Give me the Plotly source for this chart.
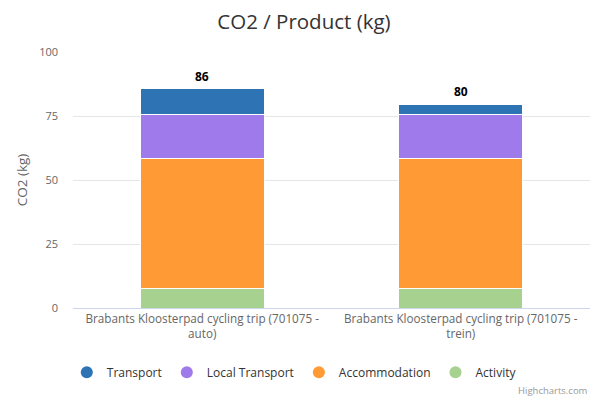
import plotly.graph_objects as go

# Categories and stacked values (kg CO2)
categories = [
    "Brabants Kloosterpad cycling trip (701075 - auto)",
    "Brabants Kloosterpad cycling trip (701075 - trein)",
]
tick_labels = [
    "Brabants Kloosterpad cycling trip (701075 -<br>auto)",
    "Brabants Kloosterpad cycling trip (701075 -<br>trein)",
]
activity = [7.8, 7.8]
accommodation = [50.7, 50.7]
local_transport = [16.9, 16.9]
transport = [10.2, 4.2]

# bottom to top stacking order
series = [
    ("Activity", activity, "#A6D18F"),
    ("Accommodation", accommodation, "#FF9A35"),
    ("Local Transport", local_transport, "#9F7AEA"),
    ("Transport", transport, "#2E74B5"),
]

font_family = "Open Sans, Verdana, sans-serif"

fig = go.Figure()
for name, vals, color in series:
    fig.add_trace(go.Bar(
        x=categories, y=vals, name=name,
        marker=dict(color=color, line=dict(color="white", width=1)),
        showlegend=False,
        hovertemplate="%{x}<br>" + name + ": %{y}<extra></extra>",
    ))

# legend entries with round symbols, like the original
for name, vals, color in series:
    fig.add_trace(go.Scatter(
        x=[None], y=[None], mode="markers", name=name,
        marker=dict(color=color, size=12, symbol="circle"),
    ))

# stack totals on top of each bar
totals = [sum(v) for v in zip(*[s[1] for s in series])]
for cat, tot in zip(categories, totals):
    fig.add_annotation(
        x=cat, y=tot, text="<b>%d</b>" % round(tot), showarrow=False,
        yanchor="bottom", yshift=2,
        font=dict(size=12, color="#000000", family=font_family),
    )

fig.add_annotation(
    x=1, y=-0.324, xref="paper", yref="paper", xanchor="right", yanchor="middle",
    text="Highcharts.com", showarrow=False,
    font=dict(size=9.5, color="#999999", family=font_family),
)

# the page has an 8px body margin, so the figure is 8px smaller
fig.update_layout(
    width=592, height=392,
    barmode="stack", bargap=0.52,
    paper_bgcolor="white", plot_bgcolor="white",
    font=dict(family=font_family, color="#666666", size=11),
    title=dict(text="CO2 / Product (kg)", x=0.5, xanchor="center", y=0.966, yanchor="middle",
               font=dict(size=20.5, color="#333333", family=font_family)),
    margin=dict(l=65, r=10, t=44, b=92),
    legend=dict(orientation="h", x=-0.012, xanchor="left", y=-0.251, yanchor="middle",
                traceorder="reversed", font=dict(size=12, color="#333333"),
                itemclick=False),
    xaxis=dict(tickmode="array", tickvals=categories, ticktext=tick_labels,
               showline=True, linecolor="#ccd6eb", linewidth=1, ticks="",
               tickfont=dict(size=11.7, color="#666666")),
    yaxis=dict(range=[0, 100], tickvals=[0, 25, 50, 75, 100],
               gridcolor="#e6e6e6", zeroline=False, ticklabelstandoff=14,
               title=dict(text="CO2 (kg)", standoff=8, font=dict(size=13.5, color="#666666")),
               tickfont=dict(size=11, color="#666666")),
)

fig.write_html("out.html")
